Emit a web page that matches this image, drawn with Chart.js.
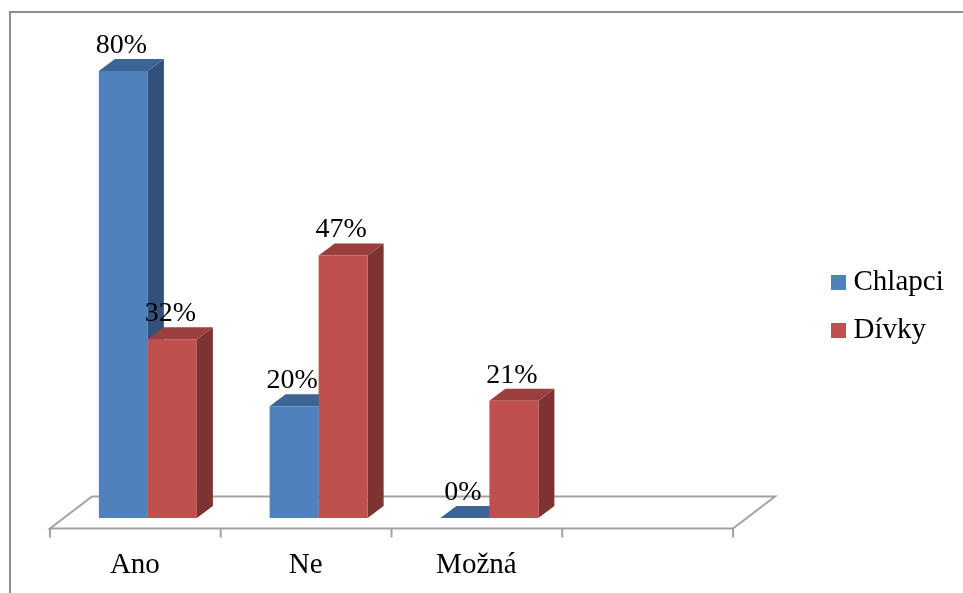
<!DOCTYPE html>
<html><head><meta charset="utf-8">
<style>html,body{margin:0;padding:0;background:#fff}canvas{display:block}</style>
<script src="https://cdn.jsdelivr.net/npm/chart.js@4"></script>
</head><body><canvas id="c" width="963" height="593"></canvas>
<script>
const categories = ["Ano", "Ne", "Možná", ""];
const chlapci = [80, 20, 0, null];
const divky = [32, 47, 21, null];
const FONT = "'Liberation Serif', serif";
const FS = 28;
const AXIS_FS = 29;

const frame = {
  id: 'frame',
  beforeLayout(chart) {
    const l = chart.legend;
    if (l && !l._patched) {
      const f = l.fit;
      l.fit = function () { f.call(this); this.width = 217.5; };
      l._patched = true;
    }
  },
  afterLayout(chart) {
    const l = chart.legend;
    l.left = 819; l.right = 963; l.top = 249; l.bottom = 593;
  },
  beforeDraw(chart) {
    const { ctx } = chart;
    ctx.save();
    ctx.fillStyle = '#fff';
    ctx.fillRect(0, 0, chart.width, chart.height);
    ctx.strokeStyle = '#8e8e8e';
    ctx.lineWidth = 2;
    ctx.beginPath();
    ctx.moveTo(10, 593); ctx.lineTo(10, 12); ctx.lineTo(963, 12);
    ctx.stroke();
    ctx.restore();
  },
  beforeDatasetsDraw(chart) {
    const { ctx, chartArea: a } = chart;
    const l = a.left - 12.5, r = a.right - 12.5, f = a.bottom + 10.5;
    ctx.save();
    ctx.strokeStyle = '#a3a3a3';
    ctx.lineWidth = 2;
    ctx.beginPath();
    ctx.moveTo(l, f); ctx.lineTo(l + 42, f - 32); ctx.lineTo(r + 42, f - 32); ctx.lineTo(r, f); ctx.closePath();
    const step = (r - l) / categories.length;
    categories.forEach((_, i) => { ctx.moveTo(l + i * step, f); ctx.lineTo(l + i * step, f + 9); });
    ctx.moveTo(r, f); ctx.lineTo(r, f + 9);
    ctx.stroke();
    const dx = 16, dy = 12;
    chart.data.datasets.forEach((ds, di) => {
      chart.getDatasetMeta(di).data.forEach((b, i) => {
        if (ds.data[i] === null) return;
        const hw = b.width / 2, L = b.x - hw, R = b.x + hw, T = b.y, B = b.base;
        ctx.fillStyle = ds.sideColor;
        ctx.beginPath();
        ctx.moveTo(R, T); ctx.lineTo(R + dx, T - dy); ctx.lineTo(R + dx, B - dy); ctx.lineTo(R, B);
        ctx.closePath(); ctx.fill();
        ctx.fillStyle = ds.topColor;
        ctx.beginPath();
        ctx.moveTo(L, T); ctx.lineTo(L + dx, T - dy); ctx.lineTo(R + dx, T - dy); ctx.lineTo(R, T);
        ctx.closePath(); ctx.fill();
      });
    });
    ctx.restore();
  },
  afterDatasetsDraw(chart) {
    const { ctx } = chart;
    ctx.save();
    ctx.font = FS + 'px ' + FONT;
    ctx.fillStyle = '#000';
    ctx.textAlign = 'center';
    ctx.textBaseline = 'alphabetic';
    chart.data.datasets.forEach((ds, di) => {
      chart.getDatasetMeta(di).data.forEach((b, i) => {
        if (ds.data[i] === null) return;
        ctx.fillText(ds.data[i] + '%', b.x - 2, b.y - 18);
      });
    });
    ctx.restore();
  }
};

new Chart(document.getElementById('c'), {
  type: 'bar',
  data: {
    labels: categories,
    datasets: [
      { label: 'Chlapci', data: chlapci, backgroundColor: '#4f81bd', topColor: '#3c6494', sideColor: '#325179' },
      { label: 'Dívky', data: divky, backgroundColor: '#c0504d', topColor: '#9a3f3d', sideColor: '#7c3331' }
    ]
  },
  options: {
    responsive: false,
    animation: false,
    events: [],
    layout: { padding: { left: 62.5, top: 71, right: 0, bottom: 0 } },
    datasets: { bar: { categoryPercentage: 0.574, barPercentage: 1, borderWidth: 0 } },
    scales: {
      x: {
        grid: { display: false, drawTicks: false },
        border: { display: false },
        afterFit(s) { s.height = 75; },
        ticks: { color: '#000', font: { family: FONT, size: AXIS_FS }, padding: 30, labelOffset: -13, maxRotation: 0, autoSkip: false }
      },
      y: { display: false, min: 0, max: 80 }
    },
    plugins: {
      tooltip: { enabled: false },
      legend: {
        position: 'right',
        align: 'start',
        labels: {
          color: '#000',
          font: { family: FONT, size: AXIS_FS },
          boxWidth: 1,
          boxHeight: 1,
          padding: 19,
          generateLabels(chart) {
            return Chart.defaults.plugins.legend.labels.generateLabels(chart).map(it => ({
              ...it, strokeStyle: it.fillStyle, lineWidth: 14
            }));
          }
        }
      }
    }
  },
  plugins: [frame]
});
</script></body></html>
